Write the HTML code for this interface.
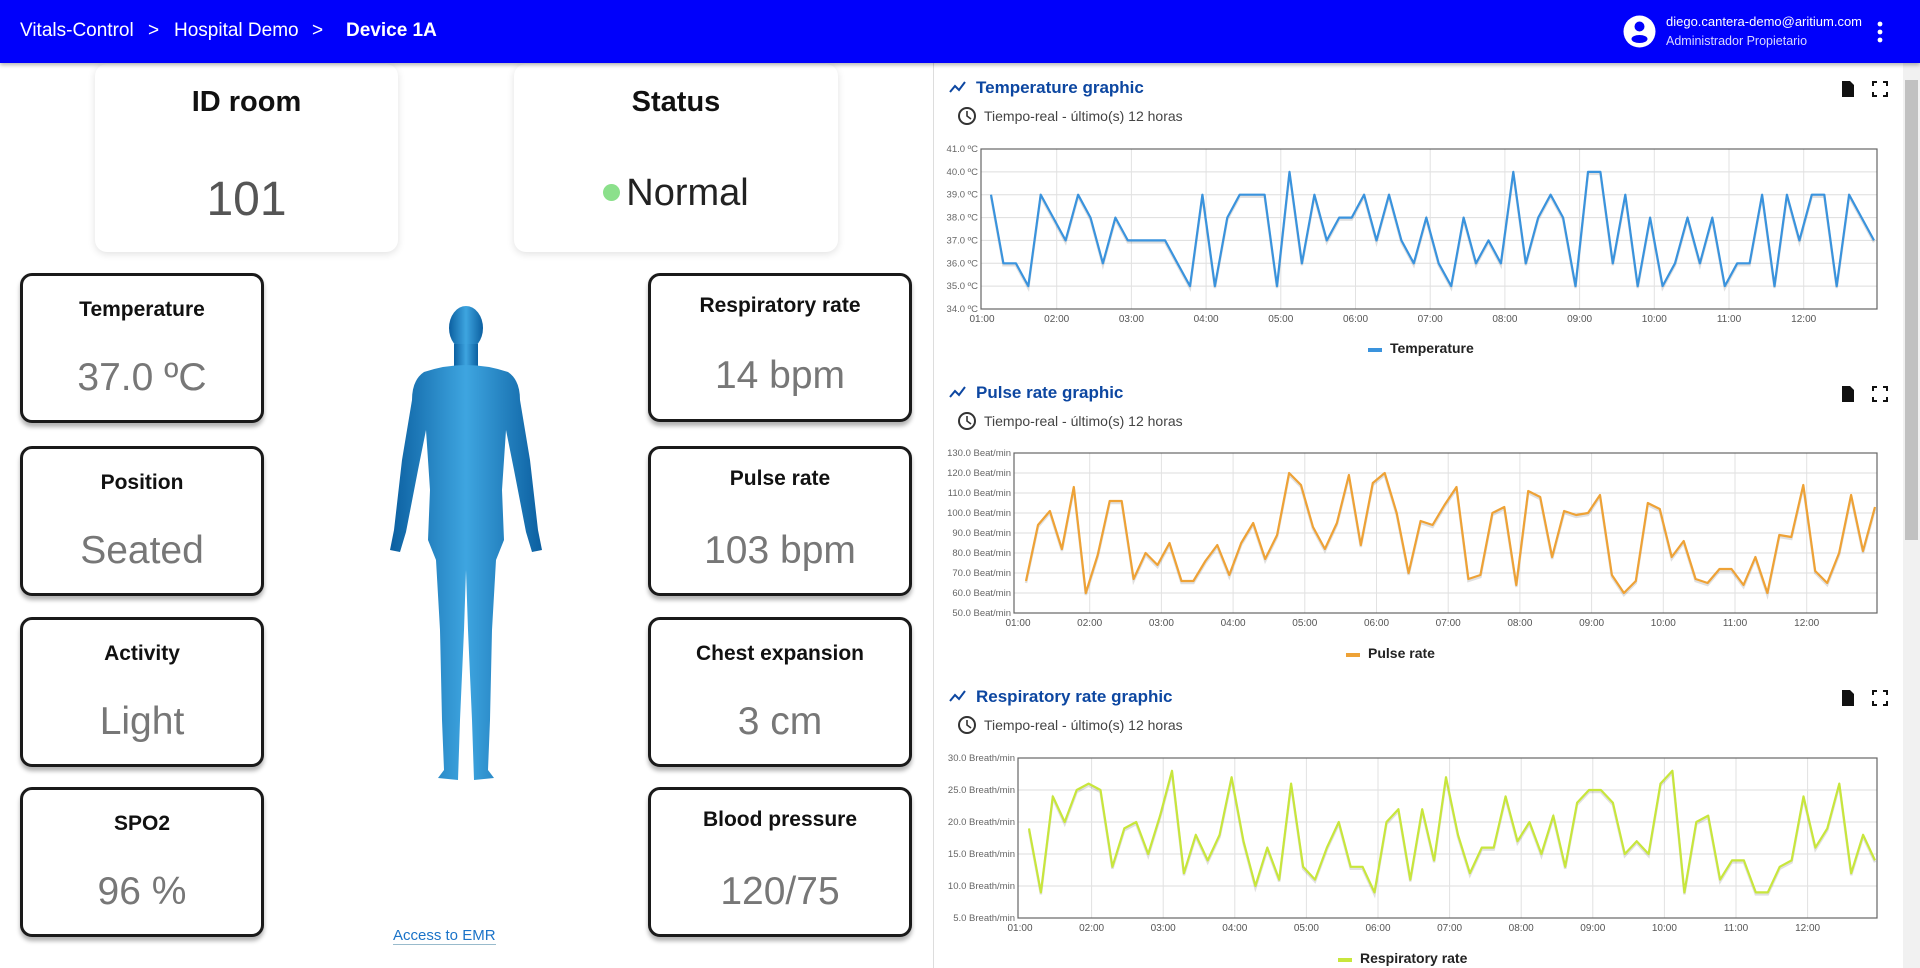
<!DOCTYPE html>
<html><head><meta charset="utf-8">
<style>
*{box-sizing:border-box;margin:0;padding:0}
body{width:1920px;height:968px;overflow:hidden;background:#fff;font-family:"Liberation Sans",sans-serif;position:relative}
.hdr{position:absolute;left:0;top:0;width:1920px;height:63px;background:#0000fb;color:#fff;box-shadow:0 2px 4px rgba(0,0,0,.3);z-index:2}
.hdr span{position:absolute;top:20px;font-size:19px}
.card{position:absolute;background:#fff;border-radius:12px;box-shadow:0 2px 8px rgba(0,0,0,.12);text-align:center}
.card .t{position:absolute;left:0;right:0;font-weight:bold;font-size:29px;color:#111}
.card .v{position:absolute;left:0;right:0;font-weight:300;font-size:48px;color:#555}
.sc{position:absolute;width:244px;height:150px;border:3px solid #1a1a1a;border-radius:12px;box-shadow:0 4px 4px rgba(0,0,0,.3);text-align:center;background:#fff}
.sc.r{width:264px}
.sc .t{position:absolute;left:0;right:0;top:22px;font-weight:bold;font-size:21px;color:#111}
.sc .v{position:absolute;left:0;right:0;top:80px;font-weight:300;font-size:39px;color:#777}
</style></head><body>
<div class="hdr">
<span style="left:20px">Vitals-Control</span>
<span style="left:148px">&gt;</span>
<span style="left:174px">Hospital Demo</span>
<span style="left:312px">&gt;</span>
<span style="left:346px;font-weight:bold">Device 1A</span>
<svg style="position:absolute;left:1623px;top:15px" width="33" height="33" viewBox="0 0 33 33"><circle cx="16.5" cy="16.5" r="16" fill="#fff"/><circle cx="16.5" cy="11.5" r="5" fill="#0000fb"/><ellipse cx="16.5" cy="24" rx="8" ry="4" fill="#0000fb"/></svg>
<div style="position:absolute;left:1666px;top:14px;font-size:13px">diego.cantera-demo@aritium.com</div>
<div style="position:absolute;left:1666px;top:34px;font-size:12.5px;color:#d8d8ff">Administrador Propietario</div>
<svg style="position:absolute;left:1876px;top:21px" width="8" height="22"><circle cx="4" cy="3" r="2.4" fill="#fff"/><circle cx="4" cy="11" r="2.4" fill="#fff"/><circle cx="4" cy="19" r="2.4" fill="#fff"/></svg>
</div>

<div class="card" style="left:95px;top:64px;width:303px;height:188px"><div class="t" style="top:22px">ID room</div><div class="v" style="top:108px">101</div></div>
<div class="card" style="left:514px;top:64px;width:324px;height:188px"><div class="t" style="top:22px">Status</div><div class="v" style="top:108px;color:#222;font-size:38px;"><span style="display:inline-block;width:17px;height:17px;border-radius:50%;background:#8be08b;margin-right:6px;vertical-align:4px"></span>Normal</div></div>

<div class="sc" style="left:20px;top:273px"><div class="t">Temperature</div><div class="v">37.0 ºC</div></div>
<div class="sc" style="left:20px;top:446px"><div class="t">Position</div><div class="v">Seated</div></div>
<div class="sc" style="left:20px;top:617px"><div class="t">Activity</div><div class="v">Light</div></div>
<div class="sc" style="left:20px;top:787px"><div class="t">SPO2</div><div class="v">96 %</div></div>
<div class="sc r" style="left:648px;top:273px;height:149px"><div class="t" style="top:18px">Respiratory rate</div><div class="v" style="top:78px">14 bpm</div></div>
<div class="sc r" style="left:648px;top:446px"><div class="t" style="top:18px">Pulse rate</div><div class="v">103 bpm</div></div>
<div class="sc r" style="left:648px;top:617px"><div class="t">Chest expansion</div><div class="v">3 cm</div></div>
<div class="sc r" style="left:648px;top:787px"><div class="t" style="top:18px">Blood pressure</div><div class="v">120/75</div></div>

<svg style="position:absolute;left:370px;top:300px" width="190" height="500" viewBox="0 0 190 500">
<defs><linearGradient id="bg" x1="0" x2="1"><stop offset="0" stop-color="#0b5fa0"/><stop offset=".5" stop-color="#3ea5e0"/><stop offset="1" stop-color="#0b5fa0"/></linearGradient></defs>
<g fill="url(#bg)">
<ellipse cx="96" cy="28" rx="17" ry="22"/>
<rect x="84" y="44" width="24" height="22"/>
<path d="M54 72 Q96 58 138 72 Q150 80 150 100 L160 160 L168 230 L172 250 L162 252 L156 232 L144 170 L136 130 L132 190 L134 240 L126 260 L122 330 L120 420 L118 470 L124 478 L104 480 L102 420 L98 330 L96 270 L94 330 L90 420 L88 480 L68 478 L74 470 L72 420 L70 330 L66 260 L58 240 L60 190 L56 130 L48 170 L36 232 L30 252 L20 250 L24 230 L32 160 L42 100 Q42 80 54 72Z"/>
</g></svg>
<div style="position:absolute;left:393px;top:927px;font-size:15px;color:#1a73c8;border-bottom:1px solid #9bc">Access to EMR</div>

<div style="position:absolute;left:933px;top:63px;width:1px;height:905px;background:#ddd"></div>
<div style="position:absolute;left:1903px;top:63px;width:17px;height:905px;background:#f1f1f1"></div>
<div style="position:absolute;left:1905px;top:80px;width:13px;height:460px;background:#c1c1c1"></div>

<svg id="ch" style="position:absolute;left:0;top:0" width="1920" height="968"></svg>
<script>
var ns="http://www.w3.org/2000/svg",S=document.getElementById('ch');
function el(t,a,txt){var e=document.createElementNS(ns,t);for(var k in a)e.setAttribute(k,a[k]);if(txt!=null)e.textContent=txt;S.appendChild(e);return e;}
function chart(c){
 var ty=c.ty;
 el('polyline',{points:(950)+','+(ty+5)+' '+(955)+','+(ty-1)+' '+(959)+','+(ty+3)+' '+(965)+','+(ty-5),fill:'none',stroke:'#0d47a1','stroke-width':2});
 el('text',{x:976,y:ty+6,'font-size':17,'font-weight':'bold',fill:'#0d47a1','font-family':'Liberation Sans'},c.title);
 el('circle',{cx:967,cy:ty+29,r:8,fill:'none',stroke:'#333','stroke-width':2});
 el('polyline',{points:'967,'+(ty+24)+' 967,'+(ty+29)+' 971,'+(ty+32),fill:'none',stroke:'#333','stroke-width':1.6});
 el('text',{x:984,y:ty+34,'font-size':14,fill:'#444','font-family':'Liberation Sans'},'Tiempo-real - último(s) 12 horas');
 el('path',{d:'M1842 '+(ty-6)+'h8l4 4v12h-12z',fill:'#111'});
 el('path',{d:'M1873 '+(ty-1)+'v-4h4M1883 '+(ty-5)+'h4v4M1887 '+(ty+5)+'v4h-4M1877 '+(ty+9)+'h-4v-4',fill:'none',stroke:'#111','stroke-width':2});
 var L=c.l,R=1877,T=c.t,B=c.b,n=(c.max-c.min)/c.step;
 for(var i=0;i<=n;i++){var y=B-(B-T)*i/n;
  if(i>0&&i<n)el('line',{x1:L,x2:R,y1:y,y2:y,stroke:'#ddd'});
  el('text',{x:L-3,y:y+3,'font-size':9.5,fill:'#666','text-anchor':'end','font-family':'Liberation Sans'},(c.min+c.step*i).toFixed(1)+c.unit);}
 for(var h=0;h<12;h++){var x=c.h0+c.hw*h;
  if(h>0)el('line',{x1:x,x2:x,y1:T,y2:B,stroke:'#e2e2e2'});
  el('text',{x:x,y:B+13,'font-size':10,fill:'#555','text-anchor':'middle','font-family':'Liberation Sans'},(h+1<10?'0':'')+(h+1)+':00');}
 el('rect',{x:L,y:T,width:R-L,height:B-T,fill:'none',stroke:'#666','stroke-width':1.2});
 var d=c.d,st=(c.p1-c.p0)/(d.length-1),pts=[],sh=[];
 for(var i=0;i<d.length;i++){var x=c.p0+st*i,y=B-(d[i]-c.min)/(c.max-c.min)*(B-T);pts.push(x.toFixed(1)+','+y.toFixed(1));sh.push(x.toFixed(1)+','+(y+2).toFixed(1));}
 el('polyline',{points:sh.join(' '),fill:'none',stroke:'rgba(0,0,0,0.12)','stroke-width':2.5});
 el('polyline',{points:pts.join(' '),fill:'none',stroke:c.col,'stroke-width':2.2,'stroke-linejoin':'round'});
 el('rect',{x:c.lx,y:c.ly-5,width:14,height:4,fill:c.col});
 el('text',{x:c.lx+22,y:c.ly,'font-size':14,'font-weight':'bold',fill:'#222','font-family':'Liberation Sans'},c.title.replace(' graphic',''));
}
chart({ty:87,title:'Temperature graphic',l:981,t:149,b:309,min:34,max:41,step:1,unit:' ºC',h0:982,hw:74.7,p0:991,p1:1874,col:'#3a93dd',lx:1368,ly:353,
d:[39,36,36,35,39,38,37,39,38,36,38,37,37,37,37,36,35,39,35,38,39,39,39,35,40,36,39,37,38,38,39,37,39,37,36,38,36,35,38,36,37,36,40,36,38,39,38,35,40,40,36,39,35,38,35,36,38,36,38,35,36,36,39,35,39,37,39,39,35,39,38,37]});
chart({ty:392,title:'Pulse rate graphic',l:1014,t:453,b:613,min:50,max:130,step:10,unit:' Beat/min',h0:1018,hw:71.7,p0:1026,p1:1875,col:'#eea236',lx:1346,ly:658,
d:[66,94,101,82,113,60,79,106,106,67,80,74,85,66,66,76,84,69,85,95,77,89,120,114,93,82,95,119,84,115,120,100,70,96,94,104,113,67,69,100,103,64,111,108,78,101,99,100,109,69,60,66,105,102,78,86,67,65,72,72,64,78,60,89,88,114,71,65,80,109,81,103]});
chart({ty:696,title:'Respiratory rate graphic',l:1018,t:758,b:918,min:5,max:30,step:5,unit:' Breath/min',h0:1020,hw:71.6,p0:1029,p1:1875,col:'#c8e63c',lx:1338,ly:963,
d:[19,9,24,20,25,26,25,13,19,20,15,21,28,12,18,14,18,27,17,10,16,11,26,13,11,16,20,13,13,9,20,22,11,22,14,27,18,12,16,16,24,17,20,15,21,13,23,25,25,23,15,17,15,26,28,9,20,21,11,14,14,9,9,13,14,24,16,19,26,12,18,14]});
</script>
</body></html>
